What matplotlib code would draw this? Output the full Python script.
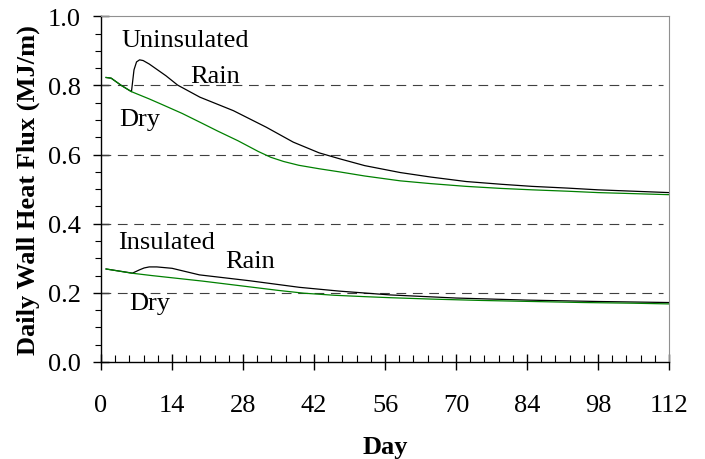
import matplotlib.pyplot as plt
from matplotlib.ticker import MultipleLocator, FormatStrFormatter

plt.rcParams['font.family'] = ['Liberation Serif', 'DejaVu Serif']
plt.rcParams['lines.scale_dashes'] = False

# Uninsulated wall, dry and with rain event
unins_dry_day = [1, 2, 4, 6, 9.5, 12, 16, 20, 23, 27, 31, 33.5, 36, 39, 43, 47, 52,
                 59, 65, 72, 79, 85, 92, 98, 105, 112]
unins_dry_val = [0.823, 0.821, 0.800, 0.782, 0.761, 0.745, 0.719, 0.690, 0.668,
                 0.640, 0.609, 0.592, 0.580, 0.569, 0.559, 0.550, 0.538, 0.524,
                 0.516, 0.508, 0.502, 0.498, 0.494, 0.490, 0.487, 0.484]

unins_rain_day = [1, 2, 4, 6, 6.5, 7.0, 7.6, 8.3, 9.5, 12.8, 15.1, 19.5, 26.1, 32.6,
                  37.9, 43, 47, 52, 59, 65, 72, 79, 85, 92, 98, 105, 112]
unins_rain_val = [0.823, 0.821, 0.800, 0.782, 0.845, 0.868, 0.874, 0.872, 0.862,
                  0.828, 0.801, 0.766, 0.727, 0.679, 0.636, 0.605, 0.588, 0.568,
                  0.548, 0.535, 0.522, 0.514, 0.508, 0.503, 0.498, 0.494, 0.490]

# Insulated wall
ins_dry_day = [1, 6, 10, 15, 20, 25, 30, 35, 40, 46, 52, 57, 65, 75, 85, 95, 105, 112]
ins_dry_val = [0.269, 0.257, 0.250, 0.242, 0.234, 0.225, 0.216, 0.207, 0.199,
               0.193, 0.189, 0.186, 0.182, 0.178, 0.175, 0.172, 0.170, 0.168]

ins_rain_day = [1, 6.2, 7.5, 8.5, 9.5, 11, 14, 19.4, 29.3, 39.1, 47, 57, 70, 84, 98, 112]
ins_rain_val = [0.269, 0.257, 0.266, 0.272, 0.275, 0.275, 0.271, 0.252, 0.235,
                0.216, 0.205, 0.194, 0.185, 0.179, 0.175, 0.172]

fs = 19

fig = plt.figure(figsize=(7.05, 4.6), dpi=100)
ax = fig.add_axes([0.1433, 0.2109, 0.8057, 0.7515])

for y in [0.2, 0.4, 0.6, 0.8]:
    ax.axhline(y, xmax=0.99, color='#404040', lw=0.8, linestyle=(0, (7, 4.8)))

# rain curves first so the dry (green) line sits on top where they coincide
ax.plot(unins_rain_day, unins_rain_val, color='black', lw=0.9)
ax.plot(unins_dry_day, unins_dry_val, color='#008000', lw=0.9)
ax.plot(ins_rain_day, ins_rain_val, color='black', lw=0.9)
ax.plot(ins_dry_day, ins_dry_val, color='#008000', lw=0.9)

ax.text(4.0, 0.914, 'Uninsulated', fontsize=fs)
ax.text(17.6, 0.809, 'Rain', fontsize=fs)
ax.text(3.5, 0.686, 'Dry', fontsize=fs)
ax.text(3.3, 0.329, 'Insulated', fontsize=fs)
ax.text(24.4, 0.274, 'Rain', fontsize=fs)
ax.text(5.6, 0.153, 'Dry', fontsize=fs)

ax.set_xlim(0, 112)
ax.set_ylim(0, 1.0)
ax.xaxis.set_major_locator(MultipleLocator(14))
ax.xaxis.set_minor_locator(MultipleLocator(2.8))
ax.yaxis.set_major_locator(MultipleLocator(0.2))
ax.yaxis.set_minor_locator(MultipleLocator(0.05))
ax.yaxis.set_major_formatter(FormatStrFormatter('%.1f'))

ax.tick_params(axis='x', which='major', direction='inout', length=12, width=1, labelsize=fs, pad=17)
ax.tick_params(axis='x', which='minor', direction='in', length=5, width=0.8)
ax.tick_params(axis='y', which='major', direction='inout', length=11, width=1, labelsize=fs, pad=9)
ax.tick_params(axis='y', which='minor', direction='out', length=4.5, width=0.8)

for side in ['top', 'right']:
    ax.spines[side].set_color('#909090')
    ax.spines[side].set_linewidth(0.8)
for side in ['left', 'bottom']:
    ax.spines[side].set_linewidth(1.0)

ax.set_xlabel('Day', fontsize=fs, fontweight='bold', labelpad=13.5)
ax.set_ylabel('Daily Wall Heat Flux (MJ/m)', fontsize=fs, fontweight='bold', labelpad=6)

plt.savefig('out.png', dpi=100)
